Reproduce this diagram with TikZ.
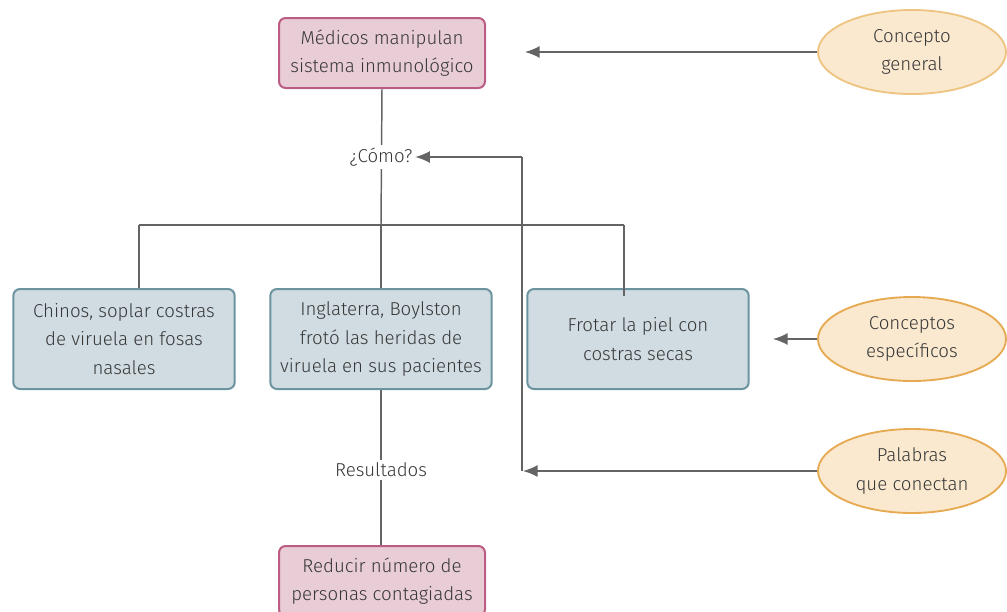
\documentclass[tikz,border=0pt]{standalone}
\usepackage{fontspec}
\setmainfont{Fira Sans}[UprightFont=* Light]
\usetikzlibrary{arrows.meta,shapes.geometric}
\definecolor{txt}{RGB}{55,55,55}
\definecolor{ln}{RGB}{100,100,100}
\definecolor{pinkfill}{RGB}{232,204,214}
\definecolor{pinkdraw}{RGB}{186,92,132}
\definecolor{bluefill}{RGB}{208,220,226}
\definecolor{bluedraw}{RGB}{108,148,160}
\definecolor{ellfill}{RGB}{250,233,207}
\definecolor{elldraw}{RGB}{230,170,82}
\definecolor{elldrawlight}{RGB}{238,196,130}
\tikzset{
  every node/.style={text=txt, font=\fontsize{14}{21.5}\selectfont, align=center},
  pinkbox/.style={draw=pinkdraw, fill=pinkfill, line width=1.5pt, rounded corners=5pt, minimum width=154.5pt, minimum height=52.5pt, inner sep=0pt},
  bluebox/.style={draw=bluedraw, fill=bluefill, line width=1.5pt, rounded corners=5pt, minimum width=166pt, minimum height=75pt, inner sep=0pt},
  ell/.style={ellipse, draw=elldraw, fill=ellfill, line width=1.4pt, minimum width=141pt, minimum height=63pt, inner sep=0pt},
  conn/.style={draw=ln, line width=1.1pt},
  arr/.style={conn, -{Latex[length=11pt,width=9pt]}},
  lbl/.style={fill=white, inner sep=2pt}
}
\begin{document}
\begin{tikzpicture}[x=0.75pt,y=-0.75pt]
\useasboundingbox (0,0) rectangle (1007,611);
\begin{scope}
\clip (0,0) rectangle (1007,611);
% connectors under nodes
\coordinate (hl) at (139,225);
\coordinate (hr) at (624,225);
\coordinate (hm) at (381,225);
\coordinate (vb) at (522,471);
\coordinate (vt) at (522,157);
\draw[conn] (382,88) -- (hm);
\draw[conn] (hl) -- (hr);
\draw[conn] (hl) -- (139,290);
\draw[conn] (hm) -- (381,290);
\draw[conn] (381,389) -- (381,546);

\node[pinkbox] (top) at (382,53) {Médicos manipulan\\sistema inmunológico};
\node[bluebox] (b1) at (124,339) {Chinos, soplar costras\\de viruela en fosas\\nasales};
\node[bluebox] (b2) at (381,339) {Inglaterra, Boylston\\frotó las heridas de\\viruela en sus pacientes};
\node[bluebox] (b3) at (638,339) {Frotar la piel con\\costras secas};
\draw[conn] (hr) -- (624,296);
\node[pinkbox] (bot) at (382,581) {Reducir número de\\personas contagiadas};

\node[lbl] (como) at (381,157) {¿Cómo?};
\node[lbl] (res) at (381,470) {Resultados};

\node[ell, draw=elldrawlight] (e1) at (912,52) {Concepto\\general};
\node[ell] (e2) at (912,339) {Conceptos\\específicos};
\node[ell] (e3) at (912,471) {Palabras\\que conectan};

\draw[arr] (e1.west) -- (525,52);
\draw[arr] (e2.west) -- (773,339);
\draw[arr] (e3.west) -- (523,471);
\draw[conn] (vb) -- (vt);
\draw[arr] (vt) -- (como.east);
\end{scope}
\end{tikzpicture}
\end{document}
